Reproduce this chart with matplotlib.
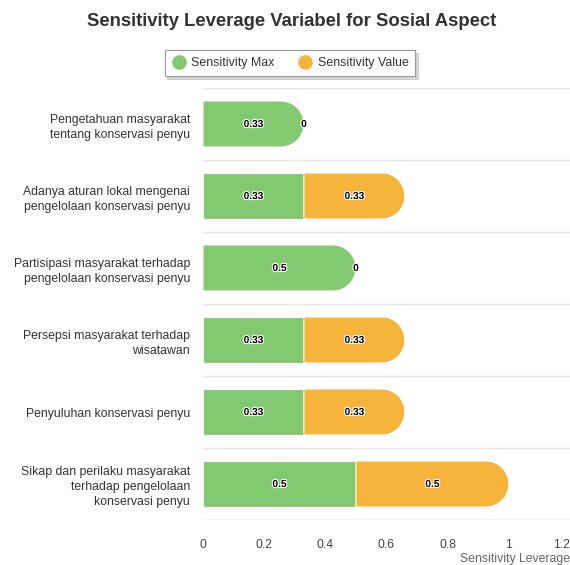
import numpy as np
import matplotlib
matplotlib.use("Agg")
import matplotlib.pyplot as plt
from matplotlib.patches import Polygon
from matplotlib.lines import Line2D
import matplotlib.patheffects as pe

plt.rcParams['font.family'] = ['Liberation Sans', 'DejaVu Sans']

categories = [
    "Pengetahuan masyarakat\ntentang konservasi penyu",
    "Adanya aturan lokal mengenai\npengelolaan konservasi penyu",
    "Partisipasi masyarakat terhadap\npengelolaan konservasi penyu",
    "Persepsi masyarakat terhadap\nwisatawan",
    "Penyuluhan konservasi penyu",
    "Sikap dan perilaku masyarakat\nterhadap pengelolaan\nkonservasi penyu",
]
sens_max = [0.33, 0.33, 0.5, 0.33, 0.33, 0.5]
sens_value = [0, 0.33, 0, 0.33, 0.33, 0.5]
series_names = ["Sensitivity Max", "Sensitivity Value"]
colors = ["#83c96f", "#f6b43a"]
xticks = [0, 0.2, 0.4, 0.6, 0.8, 1, 1.2]
xtick_labels = ["0", "0.2", "0.4", "0.6", "0.8", "1", "1.2"]

W, H = 570, 565
fig = plt.figure(figsize=(W / 100, H / 100), dpi=100)
ax_l, ax_r, ax_t, ax_b = 203, 570, 88, 520
ax = fig.add_axes([ax_l / W, 1 - ax_b / H, (ax_r - ax_l) / W, (ax_b - ax_t) / H])
xmax = 1.2
n = len(categories)
ax.set_xlim(0, xmax)
ax.set_ylim(n - 0.5, -0.5)

bar_h = 0.64
px_per_x = (ax_r - ax_l) / xmax
px_per_y = (ax_b - ax_t) / n
rx = (bar_h / 2) * px_per_y / px_per_x


def seg_poly(x0, x1, yc, rounded):
    y0, y1 = yc - bar_h / 2, yc + bar_h / 2
    if not rounded:
        return [(x0, y0), (x1, y0), (x1, y1), (x0, y1)]
    r = min(rx, x1 - x0)
    cx = x1 - r
    t = np.linspace(-np.pi / 2, np.pi / 2, 60)
    arc = [(cx + r * np.cos(a), yc + (bar_h / 2) * np.sin(a)) for a in t]
    return [(x0, y0), (cx, y0)] + arc + [(cx, y1), (x0, y1)]


for i in range(n):
    segs = [sens_max[i], sens_value[i]]
    last_nz = max(k for k, v in enumerate(segs) if v > 0)
    left = 0
    for k, v in enumerate(segs):
        if v > 0:
            poly = Polygon(seg_poly(left, left + v, i, k == last_nz),
                           closed=True, facecolor=colors[k],
                           edgecolor="white", linewidth=0.8, zorder=3)
            ax.add_patch(poly)
        ax.text(left + v / 2, i, f"{v:g}", ha="center", va="center",
                fontsize=7.3, fontweight="bold", color="black", zorder=5,
                path_effects=[pe.withStroke(linewidth=1.6, foreground="white")])
        left += v

for b in np.arange(-0.5, n, 1.0):
    ax.axhline(b, color="#e6e6e6", linewidth=1, zorder=1)
ax.axhline(n - 0.5, color="#d8dce6", linewidth=1, zorder=1)

for s in ax.spines.values():
    s.set_visible(False)
ax.set_yticks(range(n))
ax.set_yticklabels(categories, fontsize=8.8, color="#333333", ha="right",
                   multialignment="right", linespacing=1.36)
ax.tick_params(axis="y", length=0, pad=9.4)
ax.set_xticks(xticks)
ax.set_xticklabels(xtick_labels, fontsize=8.7, color="#444444")
ax.get_xticklabels()[-1].set_horizontalalignment("right")
ax.tick_params(axis="x", length=0, pad=14)

fig.text(291.5 / W, 1 - 21 / H, "Sensitivity Leverage Variabel for Sosial Aspect",
         ha="center", va="center", fontsize=13.3, fontweight="bold", color="#333333")
fig.text(570 / W, 1 - 559 / H, "Sensitivity Leverage", ha="right", va="center",
         fontsize=8.8, color="#666666")

handles = [Line2D([], [], marker="o", linestyle="none", markersize=9.5,
                  markerfacecolor=c, markeredgecolor=c) for c in colors]
leg = fig.legend(handles, series_names, loc="center", bbox_to_anchor=(290 / W, 1 - 63 / H),
                 ncol=2, fontsize=8.9, frameon=True, shadow={"color": "#bbbbbb", "alpha": 0.6},
                 fancybox=False, edgecolor="#999999", handletextpad=0.4, columnspacing=1.9,
                 borderpad=0.55, handlelength=1.2)
leg.get_frame().set_linewidth(0.8)
for t in leg.get_texts():
    t.set_color("#333333")

fig.savefig("out.png", dpi=100)
